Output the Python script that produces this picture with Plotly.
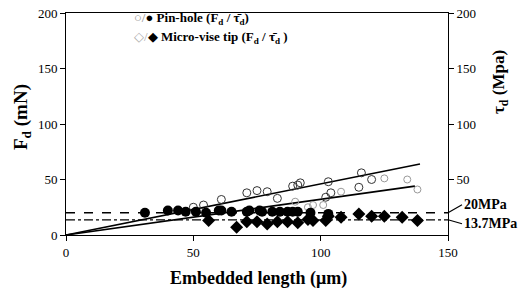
import plotly.graph_objects as go

# Pin-hole: embedded length vs pull-out force Fd (open circles, left axis)
pin_x = [50, 54, 61, 71, 75, 79, 83, 89, 91, 92, 103, 116, 115, 104, 102, 120]
pin_fd = [25, 27, 32, 38, 40, 39, 33, 44, 45, 47, 48, 56, 43, 38, 34, 50]
# Pin-hole: shear strength tau_d (filled circles, right axis)
pin_tau_x = [31, 40, 44, 47, 51, 55, 60, 61, 65, 71, 72, 76, 77, 81, 84, 87, 89, 91, 96, 103]
pin_tau = [20, 22, 22, 21, 21, 20, 22, 22, 21, 21, 22, 22, 21, 21, 21, 21, 21, 21, 20, 19]
# Micro-vise tip: Fd (open symbols, left axis)
mv_x = [90, 95, 97, 101, 108, 125, 134, 138]
mv_fd = [30, 25, 27, 27, 39, 51, 50, 41]
# Micro-vise tip: tau_d (filled diamonds, right axis)
mv_tau_x = [56, 67, 71, 75, 79, 83, 87, 91, 95, 97, 102, 103, 108, 115, 120, 125, 132, 138]
mv_tau = [13, 7, 12, 12, 10, 12, 12, 11, 14, 13, 13, 17, 16, 19, 17, 17, 16, 13]
# Fitted lines (Fd vs embedded length)
fit_x = [0, 139]
fit_pin = [0, 64]
fit_mv_x = [0, 137]
fit_mv = [0, 44]
# Average shear strengths
tau_levels = [20, 13.7]
tau_labels = ["20MPa", "13.7MPa"]
x_range = [0, 150]
y_ticks = [0, 50, 100, 150, 200]

FONT = "Liberation Serif"
L, R, T, B = 66, 72, 13, 56
PW, PH = 520 - L - R, 291 - T - B


def px(xp):
    return (xp - L) / PW


def py(yp):
    return (291 - B - yp) / PH


fig = go.Figure()
fig.add_trace(go.Scatter(x=fit_x, y=fit_pin, mode="lines", line=dict(color="black", width=1.6), showlegend=False))
fig.add_trace(go.Scatter(x=fit_mv_x, y=fit_mv, mode="lines", line=dict(color="black", width=1.6), showlegend=False))
fig.add_trace(go.Scatter(x=x_range, y=[tau_levels[0]] * 2, mode="lines", yaxis="y2",
                         line=dict(color="black", width=1.4, dash="dash"), showlegend=False))
fig.add_trace(go.Scatter(x=x_range, y=[tau_levels[1]] * 2, mode="lines", yaxis="y2",
                         line=dict(color="black", width=1.2, dash="dashdot"), showlegend=False))
fig.add_trace(go.Scatter(x=pin_x, y=pin_fd, mode="markers",
                         marker=dict(symbol="circle-open", size=8, color="#333", line=dict(width=1)), showlegend=False))
fig.add_trace(go.Scatter(x=mv_x, y=mv_fd, mode="markers",
                         marker=dict(symbol="circle-open", size=7, color="#999", line=dict(width=1)), showlegend=False))
fig.add_trace(go.Scatter(x=pin_tau_x, y=pin_tau, mode="markers", yaxis="y2",
                         marker=dict(symbol="circle", size=10, color="black"), showlegend=False))
fig.add_trace(go.Scatter(x=mv_tau_x, y=mv_tau, mode="markers", yaxis="y2",
                         marker=dict(symbol="diamond", size=10, color="black"), showlegend=False))

axis_common = dict(showgrid=False, zeroline=False, showline=True, linecolor="black", linewidth=1,
                   ticks="outside", ticklen=5, tickcolor="black", automargin=False,
                   tickfont=dict(family=FONT, size=13, color="black"))

fig.update_layout(
    width=520, height=291,
    margin=dict(l=L, r=R, t=T, b=B, autoexpand=False),
    paper_bgcolor="white", plot_bgcolor="white",
    showlegend=False,
    xaxis=dict(range=x_range, tickvals=[0, 50, 100, 150], mirror=True, **axis_common),
    yaxis=dict(range=[0, 200], tickvals=y_ticks, **axis_common),
    yaxis2=dict(range=[0, 200], tickvals=y_ticks[1:], overlaying="y", side="right", **axis_common),
)

fig.add_annotation(text="<b>Embedded length (μm)</b>", xref="paper", yref="paper",
                   x=px(258), y=py(278), xanchor="center", yanchor="middle",
                   showarrow=False, font=dict(family=FONT, size=18, color="black"))
fig.add_annotation(text="<b>F<sub>d</sub> (mN)</b>", xref="paper", yref="paper",
                   x=px(22), y=py(117), textangle=-90,
                   xanchor="center", yanchor="middle", showarrow=False,
                   font=dict(family=FONT, size=19, color="black"))
fig.add_annotation(text="<b>τ<sub>d</sub> (Mpa)</b>", xref="paper", yref="paper",
                   x=px(500), y=py(82), textangle=-90,
                   xanchor="center", yanchor="middle", showarrow=False,
                   font=dict(family=FONT, size=17, color="black"))
fig.add_annotation(text="<span style='color:#888'>○/</span>● <b>Pin-hole (F<sub>d</sub> / τ̄<sub>d</sub>)</b>",
                   xref="paper", yref="paper", x=px(132), y=py(18),
                   xanchor="left", yanchor="middle", showarrow=False,
                   font=dict(family=FONT, size=13, color="black"))
fig.add_annotation(text="<span style='color:#aaa'>◇/</span>◆ <b>Micro-vise tip (F<sub>d</sub> / τ̄<sub>d</sub> )</b>",
                   xref="paper", yref="paper", x=px(132), y=py(37),
                   xanchor="left", yanchor="middle", showarrow=False,
                   font=dict(family=FONT, size=13, color="black"))
fig.add_annotation(text="<b>" + tau_labels[0] + "</b>", xref="x", yref="y2", x=150, y=tau_levels[0],
                   ax=14, ay=-8, xanchor="left", yanchor="middle",
                   showarrow=True, arrowhead=0, arrowwidth=1.2, arrowcolor="black", standoff=0,
                   font=dict(family=FONT, size=14, color="black"))
fig.add_annotation(text="<b>" + tau_labels[1] + "</b>", xref="x", yref="y2", x=150, y=tau_levels[1],
                   ax=14, ay=4, xanchor="left", yanchor="middle",
                   showarrow=True, arrowhead=0, arrowwidth=1.2, arrowcolor="black", standoff=0,
                   font=dict(family=FONT, size=14, color="black"))

fig.write_html("out.html", config={"displayModeBar": False},
               post_script="document.body.style.margin='0';document.body.style.overflow='hidden';")
